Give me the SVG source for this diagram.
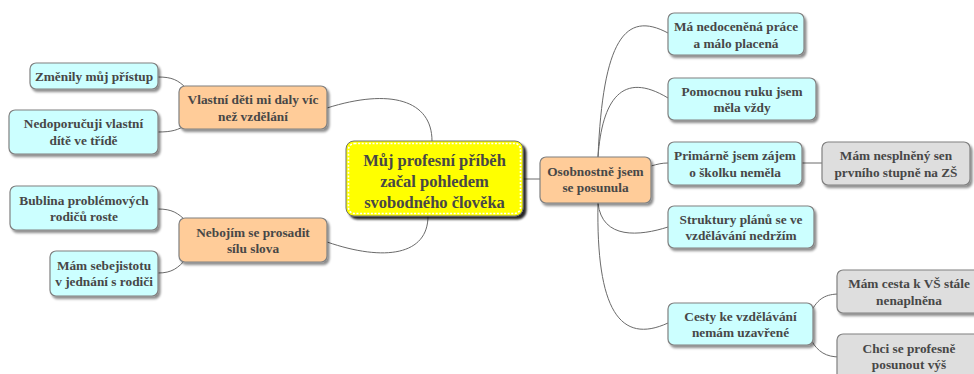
<svg xmlns="http://www.w3.org/2000/svg" width="974" height="374" viewBox="0 0 974 374">
  <defs>
    <filter id="shadow" x="-10%" y="-20%" width="125%" height="150%">
      <feDropShadow dx="2" dy="2.5" stdDeviation="1.3" flood-color="#000" flood-opacity="0.45"/>
    </filter>
    <filter id="shadowDark" x="-10%" y="-20%" width="125%" height="150%">
      <feDropShadow dx="3" dy="3" stdDeviation="1" flood-color="#000" flood-opacity="0.85"/>
    </filter>
    <style>
      .box { stroke: #808080; stroke-width: 1.2; filter: url(#shadow); }
      .leaf { fill: #ccffff; }
      .branch { fill: #ffcc99; }
      .grey { fill: #dedede; }
      .root { fill: #ffff00; stroke: #6e6e6e; stroke-width: 1; filter: url(#shadowDark); }
      .root-inner { fill: none; stroke: #ffffff; stroke-width: 1.6; stroke-dasharray: 2 1.6; }
      text { font-family: "Liberation Serif", "DejaVu Serif", serif; font-weight: bold; font-size: 13.3px; fill: #474747; text-anchor: middle; }
      .title { font-size: 16.5px; }
      .link { fill: none; stroke: #6a6a6a; stroke-width: 1; }
    </style>
  </defs>
  <rect width="974" height="374" fill="#ffffff"/>

  <!-- connectors -->
  <g id="connectors">
    <path class="link" d="M 327,108 C 390,88 432,100 432,141"/>
    <path class="link" d="M 327,242 C 385,262 428,255 428,216"/>
    <path class="link" d="M 523,179 L 540,179"/>
    <path class="link" d="M 158,77 C 172,77 178,80 186,88"/>
    <path class="link" d="M 158,132 C 172,132 178,130 186,125"/>
    <path class="link" d="M 158,209 C 172,209 178,213 186,221"/>
    <path class="link" d="M 158,273 C 172,273 178,268 186,259"/>
    <path class="link" d="M 598,157 C 603,40 625,10 668,33"/>
    <path class="link" d="M 598,157 C 602,100 622,70 668,98"/>
    <path class="link" d="M 651,166 C 658,164 662,163 668,163"/>
    <path class="link" d="M 802,163 L 822,163"/>
    <path class="link" d="M 598,203 C 602,240 640,236 668,227"/>
    <path class="link" d="M 598,203 C 596,310 620,345 668,323"/>
    <path class="link" d="M 811,312 C 818,298 826,294 840,294"/>
    <path class="link" d="M 811,340 C 818,352 826,357 840,357"/>
  </g>

  <!-- central topic -->
  <g id="root">
    <rect class="root" x="346" y="141" width="177" height="75" rx="8"/>
    <rect class="root-inner" x="348.5" y="143.5" width="172" height="70" rx="6"/>
    <text class="title" x="434.5" y="166">Můj profesní příběh</text>
    <text class="title" x="434.5" y="186.5">začal pohledem</text>
    <text class="title" x="434.5" y="207.5">svobodného člověka</text>
  </g>

  <!-- left branches -->
  <g id="vlastni-deti">
    <rect class="box branch" x="179" y="86" width="148" height="43" rx="6"/>
    <text x="253" y="104">Vlastní děti mi daly víc</text>
    <text x="253" y="120.5">než vzdělání</text>
  </g>
  <g id="zmenily">
    <rect class="box leaf" x="30" y="63" width="128" height="26" rx="6"/>
    <text x="94" y="81">Změnily můj přístup</text>
  </g>
  <g id="nedoporucuji">
    <rect class="box leaf" x="9" y="110" width="149" height="44" rx="6"/>
    <text x="83.5" y="128">Nedoporučuji vlastní</text>
    <text x="83.5" y="144.5">dítě ve třídě</text>
  </g>
  <g id="nebojim">
    <rect class="box branch" x="179" y="218" width="148" height="44" rx="6"/>
    <text x="253" y="236.5">Nebojím se prosadit</text>
    <text x="253" y="253">sílu slova</text>
  </g>
  <g id="bublina">
    <rect class="box leaf" x="10" y="186" width="148" height="44" rx="6"/>
    <text x="84" y="204.5">Bublina problémových</text>
    <text x="84" y="221">rodičů roste</text>
  </g>
  <g id="sebejistota">
    <rect class="box leaf" x="50" y="251" width="108" height="45" rx="6"/>
    <text x="104" y="269.5">Mám sebejistotu</text>
    <text x="104" y="286">v jednání s rodiči</text>
  </g>

  <!-- right branch -->
  <g id="osobnostne">
    <rect class="box branch" x="540" y="157" width="111" height="46" rx="6"/>
    <text x="595.5" y="175.5">Osobnostně jsem</text>
    <text x="595.5" y="192">se posunula</text>
  </g>
  <g id="nedocenena">
    <rect class="box leaf" x="668" y="13" width="136" height="42" rx="6"/>
    <text x="736" y="31">Má nedoceněná práce</text>
    <text x="736" y="47.5">a málo placená</text>
  </g>
  <g id="pomocna-ruka">
    <rect class="box leaf" x="668" y="78" width="148" height="42" rx="6"/>
    <text x="742" y="95.5">Pomocnou ruku jsem</text>
    <text x="742" y="112">měla vždy</text>
  </g>
  <g id="primarne">
    <rect class="box leaf" x="668" y="142" width="134" height="43" rx="6"/>
    <text x="735" y="160">Primárně jsem zájem</text>
    <text x="735" y="176.5">o školku neměla</text>
  </g>
  <g id="nesplneny-sen">
    <rect class="box grey" x="822" y="142" width="148" height="43" rx="6"/>
    <text x="896" y="160">Mám nesplněný sen</text>
    <text x="896" y="176.5">prvního stupně na ZŠ</text>
  </g>
  <g id="struktury">
    <rect class="box leaf" x="668" y="206" width="146" height="42" rx="6"/>
    <text x="741" y="223.5">Struktury plánů se ve</text>
    <text x="741" y="240">vzdělávání nedržím</text>
  </g>
  <g id="cesty">
    <rect class="box leaf" x="668" y="303" width="145" height="42" rx="6"/>
    <text x="740.5" y="320.5">Cesty ke vzdělávání</text>
    <text x="740.5" y="337">nemám uzavřené</text>
  </g>
  <g id="cesta-vs">
    <rect class="box grey" x="837" y="270" width="145" height="43" rx="6"/>
    <text x="909" y="288">Mám cesta k VŠ stále</text>
    <text x="909" y="304.5">nenaplněna</text>
  </g>
  <g id="posunout">
    <rect class="box grey" x="837" y="334" width="145" height="46" rx="6"/>
    <text x="909" y="352.5">Chci se profesně</text>
    <text x="909" y="369">posunout výš</text>
  </g>
</svg>
